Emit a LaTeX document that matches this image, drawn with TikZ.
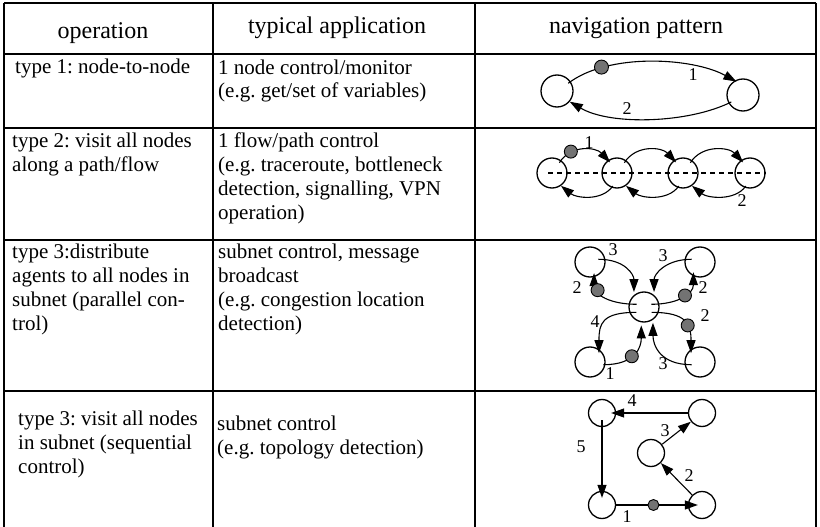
\documentclass[tikz,border=0pt]{standalone}
\usepackage{fontspec}
\setmainfont{Liberation Serif}
\usetikzlibrary{arrows.meta}
\frenchspacing

\begin{document}
\begin{tikzpicture}[x=1pt,y=1pt,yscale=-1,
    site/.style={draw, circle, line width=1.3pt, inner sep=0pt, minimum size=30pt},
    agent/.style={draw, circle, line width=0.9pt, fill=black!55, inner sep=0pt, minimum size=13pt},
    flow/.style={line width=1.1pt, -{Triangle[length=13pt,width=9pt]}},
    num/.style={inner sep=0pt, font=\fontsize{18}{18}\selectfont},
    cell/.style={anchor=north west, inner sep=0pt, align=left, font=\fontsize{21}{24}\selectfont},
    head/.style={anchor=base, inner sep=0pt, font=\fontsize{24}{24}\selectfont},
    hrule/.style={line width=1.8pt},
    vrule/.style={line width=1.4pt}]

	\useasboundingbox (0,0) rectangle (820,527);

	%Table rules
	\draw[hrule] (4,3) -- (816,3);
	\draw[hrule] (4,54) -- (816,54);
	\draw[hrule] (4,128) -- (816,128);
	\draw[hrule] (4,240) -- (816,240);
	\draw[hrule] (4,391) -- (816,391);
	\draw[vrule] (4,3) -- (4,527);
	\draw[vrule] (213,3) -- (213,527);
	\draw[vrule] (475,3) -- (475,527);
	\draw[vrule] (816,3) -- (816,527);

	% Header
	\node[head] (hop) at (103,39) {operation};
	\node[head] (happ) at (337,34) {typical application};
	\node[head] (hnav) at (636,34) {navigation pattern};

	% Operation column
	\node[cell] (op1) at (15,57) {\strut type 1: node-to-node};
	\node[cell] (op2) at (12,130) {\strut type 2: visit all nodes\\along a path/flow};
	\node[cell] (op3) at (12,241) {\strut type 3:distribute\\agents to all nodes in\\subnet (parallel con-\\trol)};
	\node[cell] (op4) at (18,408) {\strut type 3: visit all nodes\\in subnet (sequential\\control)};

	% Application column
	\node[cell] (app1) at (218,57) {\strut 1 node control/monitor\\(e.g. get/set of variables)};
	\node[cell] (app2) at (218,130) {\strut 1 flow/path control\\(e.g. traceroute, bottleneck\\detection, signalling, VPN\\operation)};
	\node[cell] (app3) at (218,241) {\strut subnet control, message\\broadcast\\(e.g. congestion location\\detection)};
	\node[cell] (app4) at (217,413) {\strut subnet control\\(e.g. topology detection)};

	% Pattern 1: node-to-node
	\node[site, minimum size=32pt] (p1) at (557,91) {};
	\node[site, minimum size=32pt] (p2) at (743,95) {};
	\draw[flow, shorten <=-3pt, shorten >=-2pt] (p1.35) .. controls +(38,-29) and +(-42,-23) .. (p2.120) node[agent, minimum size=14pt, pos=0.22] (g1) {};
	\draw[flow, shorten <=-3pt] (p2.210) .. controls +(-40,20) and +(41,24) .. (p1.-40);
	\node[num] (l1a) at (693,75) {1};
	\node[num] (l1b) at (627,109) {2};

	% Pattern 2: along a path
	\node[site] (q1) at (552,173) {};
	\node[site] (q2) at (617,173) {};
	\node[site] (q3) at (683,173) {};
	\node[site] (q4) at (750,173) {};
	\draw[line width=1.3pt, dash pattern=on 5pt off 4pt] ([xshift=-4pt]q1.center) -- (q4.east);
	\draw[flow, shorten <=-3pt, shorten >=-3pt] (q1.55) .. controls +(10,-16) and +(-12,-13) .. (q2.125) node[agent, pos=0.25] (g2) {};
	\draw[flow, shorten <=-3pt, shorten >=-3pt] (q2.55) .. controls +(10,-16) and +(-12,-13) .. (q3.125);
	\draw[flow, shorten <=-3pt, shorten >=-3pt] (q3.55) .. controls +(10,-16) and +(-12,-13) .. (q4.125);
	\draw[flow, shorten <=-2pt] (q2.250) .. controls +(-10,14) and +(15,12) .. (q1.-55);
	\draw[flow, shorten <=-2pt] (q3.250) .. controls +(-10,14) and +(15,12) .. (q2.-55);
	\draw[flow, shorten <=-2pt] (q4.250) .. controls +(-10,14) and +(15,12) .. (q3.-55);
	\node[num] (l2a) at (589,143) {1};
	\node[num] (l2b) at (742,201) {2};

	% Pattern 3: parallel
	\node[site] (m) at (644,307) {};
	\node[site] (tl) at (590,262) {};
	\node[site] (tr) at (700,262) {};
	\node[site] (bl) at (590,362) {};
	\node[site] (br) at (700,362) {};
	\draw[flow, shorten <=-7pt, shorten >=3pt] (tl.10) .. controls +(20,0) and +(0,-20) .. (m.130);
	\draw[flow, shorten <=-7pt, shorten >=3pt] (tr.170) .. controls +(-20,0) and +(0,-20) .. (m.50);
	\draw[flow, shorten <=-8pt, shorten >=-4pt] (m.170) .. controls +(-18,0) and +(0,18) .. (tl.285) node[agent, pos=0.72] (g3) {};
	\draw[flow, shorten <=-8pt, shorten >=-4pt] (m.10) .. controls +(18,0) and +(0,18) .. (tr.245) node[agent, pos=0.55] (g4) {};
	\draw[flow, shorten <=-7pt, shorten >=-4pt] (m.200) .. controls +(-28,0) and +(0,-25) .. (bl.55);
	\draw[flow, shorten <=-2pt, shorten >=3pt] (bl.-10) .. controls +(30,0) and +(0,25) .. (m.260) node[agent, pos=0.42] (g5) {};
	\draw[flow, shorten <=-7pt, shorten >=-4pt] (m.-20) .. controls +(28,0) and +(0,-25) .. (br.125) node[agent, pos=0.6] (g6) {};
	\draw[flow, shorten <=-7pt, shorten >=3pt] (br.190) .. controls +(-25,0) and +(0,25) .. (m.-55);
	\node[num] (l3a) at (613,250) {3};
	\node[num] (l3b) at (577,288) {2};
	\node[num] (l3c) at (663,256) {3};
	\node[num] (l3d) at (703,288) {2};
	\node[num] (l3e) at (595,322) {4};
	\node[num] (l3f) at (610,374) {1};
	\node[num] (l3g) at (705,316) {2};
	\node[num] (l3h) at (663,364) {3};

	% Pattern 4: sequential
	\node[site, minimum size=27pt] (u1) at (602,505) {};
	\node[site, minimum size=27pt] (u2) at (702,505) {};
	\node[site, minimum size=27pt] (u3) at (651,453) {};
	\node[site, minimum size=27pt] (u4) at (702,413) {};
	\node[site, minimum size=27pt] (u5) at (602,413) {};
	\draw[flow, shorten >=-10pt] (u1) -- (u2) node[agent, minimum size=11pt, pos=0.52] (g7) {};
	\draw[flow] (u2) -- (u3);
	\draw[flow] (u3) -- (u4);
	\draw[flow, shorten >=-5pt] (u4) -- (u5);
	\draw[flow, shorten <=-7pt, shorten >=-7pt] (u5) -- (u1);
	\node[num] (l4a) at (627,517) {1};
	\node[num] (l4b) at (689,476) {2};
	\node[num] (l4c) at (665,431) {3};
	\node[num] (l4d) at (632,401) {4};
	\node[num] (l4e) at (581,447) {5};

\end{tikzpicture}
\end{document}
